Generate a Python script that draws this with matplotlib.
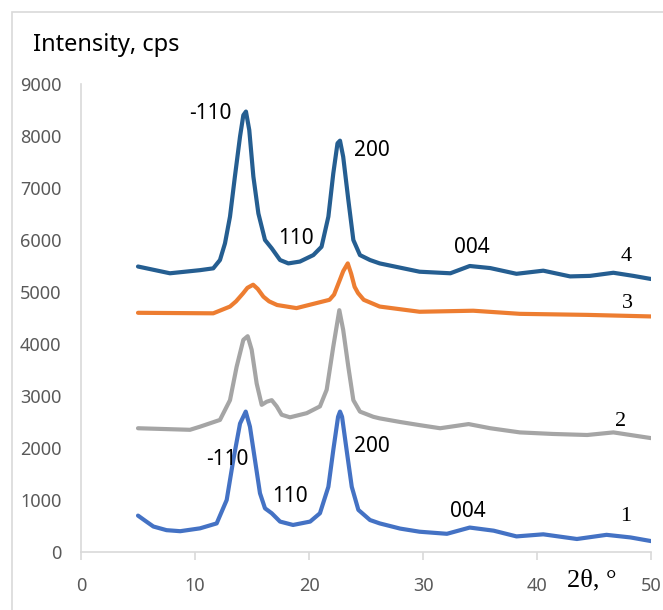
#!/usr/bin/env python3
"""XRD patterns of samples 1-4 (intensity vs 2theta)."""

import matplotlib
matplotlib.use("Agg")
import matplotlib.pyplot as plt
from matplotlib.patches import Rectangle

# values
x1 = [5.0, 5.7, 6.35, 7.5, 8.7, 10.44, 11.9, 12.78, 13.36, 13.95, 14.45, 14.82,
      15.26, 15.7, 16.14, 16.73, 17.46, 18.6, 20.1, 20.96, 21.7, 22.13, 22.55,
      22.72, 22.9, 23.3, 23.75, 24.33, 25.35, 26.2, 28.0, 29.7, 32.1, 34.1, 36.2,
      38.2, 40.55, 43.5, 46.1, 48.2, 50.0]
y1 = [700, 590, 490, 420, 400, 455, 550, 1000, 1770, 2470, 2700, 2410,
      1770, 1130, 840, 745, 585, 520, 585, 745, 1255, 1960, 2600,
      2700, 2600, 1960, 1255, 810, 615, 550, 450, 390, 350, 470, 410,
      300, 340, 250, 330, 280, 210]

x2 = [5.0, 9.56, 10.44, 12.19, 13.07, 13.65, 14.24, 14.62, 14.97, 15.41, 15.85,
      16.29, 16.73, 17.17, 17.6, 18.33, 19.8, 20.96, 21.55, 22.13, 22.66, 23.0,
      23.45, 23.89, 24.47, 25.64, 26.2, 28.0, 29.7, 31.5, 34.0, 35.9, 38.5,
      41.4, 44.4, 46.7, 50.0]
y2 = [2380, 2350, 2410, 2540, 2920, 3560, 4080, 4150, 3890, 3240, 2830,
      2890, 2920, 2800, 2640, 2590, 2670, 2800, 3120, 3950, 4650, 4270,
      3560, 2920, 2700, 2600, 2570, 2500, 2440, 2380, 2460, 2380, 2300,
      2270, 2250, 2300, 2190]

x3 = [5.0, 11.6, 13.07, 13.6, 14.2, 14.6, 15.1, 15.5, 16.0, 16.5, 17.2, 18.9,
      21.8, 22.2, 22.7, 23.0, 23.4, 23.7, 24.0, 24.3, 24.8, 26.2, 29.7, 34.4,
      38.5, 44.4, 50.0]
y3 = [4600, 4590, 4720, 4820, 4970, 5080, 5140, 5060, 4910, 4820, 4750, 4690,
      4850, 4950, 5230, 5400, 5550, 5350, 5100, 4980, 4850, 4720, 4620, 4640,
      4580, 4560, 4530]

x4 = [5.0, 7.8, 10.44, 11.6, 12.19, 12.63, 13.07, 13.5, 13.95, 14.24, 14.47,
      14.76, 15.12, 15.56, 16.14, 16.73, 17.46, 18.19, 19.2, 20.38, 21.1, 21.7,
      22.13, 22.5, 22.72, 23.0, 23.45, 23.89, 24.47, 25.35, 26.2, 29.7, 32.4,
      34.1, 35.9, 38.2, 40.55, 42.9, 44.65, 46.7, 48.45, 50.0]
y4 = [5490, 5360, 5420, 5455, 5615, 5935, 6450, 7220, 7990, 8400, 8470,
      8115, 7220, 6510, 6000, 5840, 5615, 5550, 5585, 5710, 5870, 6450,
      7280, 7860, 7910, 7600, 6770, 6000, 5710, 5615, 5550, 5390, 5360,
      5500, 5460, 5350, 5410, 5300, 5310, 5370, 5310, 5250]

series = [
    (x1, y1, "#4472C4"),
    (x2, y2, "#A5A5A5"),
    (x3, y3, "#ED7D31"),
    (x4, y4, "#255E91"),
]

# reflection labels (text, x, y)
peak_labels = [
    ("-110", 11.3, 8440), ("110", 18.9, 6020), ("200", 25.5, 7730), ("004", 34.3, 5865),
    ("-110", 12.8, 1770), ("110", 18.3, 1060), ("200", 25.5, 2020), ("004", 33.9, 770),
]
curve_labels = [("4", 47.8, 5690), ("3", 47.9, 4770), ("2", 47.3, 2500), ("1", 47.8, 690)]

x_ticks = [0, 10, 20, 30, 40, 50]
y_ticks = [0, 1000, 2000, 3000, 4000, 5000, 6000, 7000, 8000, 9000]


def main() -> int:
    fig = plt.figure(figsize=(6.63, 6.10), dpi=100)
    ax = fig.add_axes([81 / 663, 58 / 610, 570 / 663, 468 / 610])

    for xs, ys, color in series:
        ax.plot(xs, ys, color=color, linewidth=3.0, solid_joinstyle="round",
                solid_capstyle="round")

    for text, x, y in peak_labels:
        ax.text(x, y, text, ha="center", va="center", fontsize=15,
                family="Noto Sans", color="black")
    for text, x, y in curve_labels:
        ax.text(x, y, text, ha="center", va="center", fontsize=16,
                family="Liberation Serif", color="black")

    ax.set_xlim(0, 50)
    ax.set_ylim(0, 9000)
    ax.set_xticks(x_ticks)
    ax.set_yticks(y_ticks)

    grey = "#D9D9D9"
    for side in ("top", "right"):
        ax.spines[side].set_visible(False)
    for side in ("left", "bottom"):
        ax.spines[side].set_color(grey)
        ax.spines[side].set_linewidth(1.2)
    ax.tick_params(axis="x", colors=grey, length=6, width=1.2, pad=12,
                   labelcolor="#595959", labelsize=13)
    ax.tick_params(axis="y", length=0, pad=14, labelcolor="#595959", labelsize=13)
    for lab in ax.get_xticklabels() + ax.get_yticklabels():
        lab.set_family("Noto Sans")

    fig.text(33 / 663, 1 - 45 / 610, "Intensity, cps", ha="left", va="center",
             fontsize=17, family="Noto Sans")
    fig.text(567 / 663, 1 - 580 / 610, "2θ, °", ha="left", va="center",
             fontsize=19, family="Liberation Serif")

    fig.add_artist(Rectangle((12 / 663, -0.05), 1.0, 1.05 - 12 / 610,
                             transform=fig.transFigure, fill=False,
                             edgecolor=grey, linewidth=1.2))

    fig.savefig("out.png", dpi=100)
    return 0


if __name__ == "__main__":
    raise SystemExit(main())
